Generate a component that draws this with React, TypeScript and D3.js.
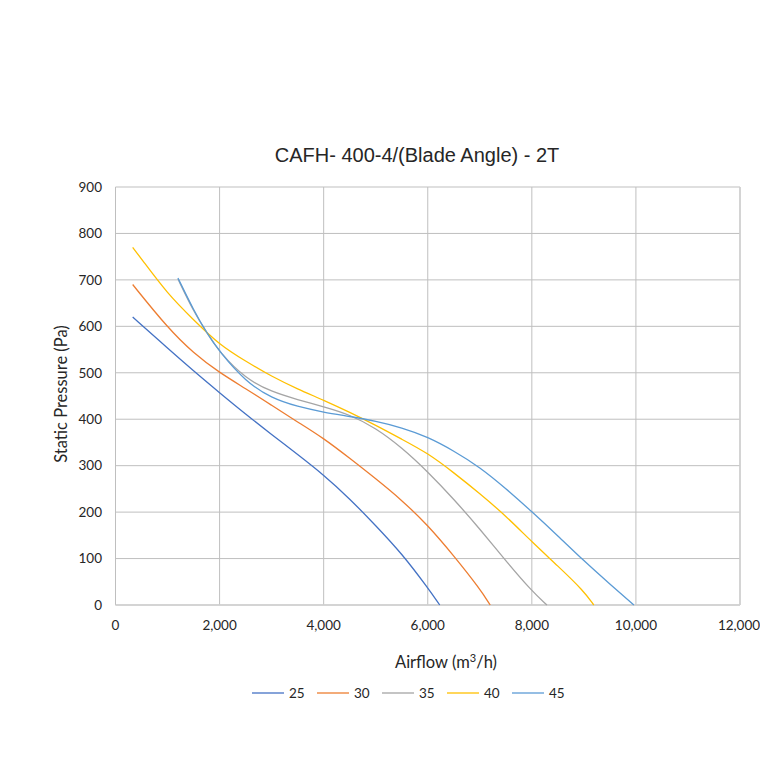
import React from "react"
import * as d3 from "d3"

// airflow (m3/h) / static pressure (Pa)
const flow25 = [330, 1000, 1500, 2000, 2500, 3000, 3500, 4000, 4500, 5000, 5500, 6000, 6230]
const pres25 = [620, 553, 504, 457, 411, 367, 324, 280, 229, 171, 111, 37, 0]

const flow30 = [330, 1000, 1500, 2000, 2500, 3000, 3500, 4000, 4500, 5000, 5500, 6000, 6500, 7000, 7200]
const pres30 = [690, 597, 542, 500, 466, 430, 394, 359, 316, 272, 226, 172, 106, 35, 0]

const flow35 = [1200, 1500, 1750, 2000, 2500, 3000, 3500, 4000, 4500, 5000, 5500, 6000, 6500, 7000, 7500, 8000, 8290]
const pres35 = [702, 632, 587, 544, 487, 459, 442, 427, 410, 381, 339, 287, 228, 164, 95, 30, 0]

const flow40 = [330, 500, 1000, 1500, 2000, 2500, 3000, 3500, 4000, 4500, 5000, 5500, 6000, 6500, 7000, 7500, 8000, 8500, 9000, 9190]
const pres40 = [770, 745, 670, 614, 560, 525, 492, 465, 441, 415, 387, 357, 327, 285, 240, 192, 136, 84, 30, 0]

const flow45 = [1200, 1500, 1750, 2000, 2500, 3000, 3500, 4000, 4500, 5000, 5500, 6000, 6500, 7000, 7500, 8000, 8500, 9000, 9500, 9960]
const pres45 = [704, 635, 586, 545, 481, 445, 427, 415, 406, 396, 382, 362, 332, 297, 251, 201, 149, 95, 45, 0]

const seriesNames = ["25", "30", "35", "40", "45"]
const seriesColors = ["#4472C4", "#ED7D31", "#A5A5A5", "#FFC000", "#5B9BD5"]
const seriesFlows = [flow25, flow30, flow35, flow40, flow45]
const seriesPres = [pres25, pres30, pres35, pres40, pres45]

const xTicks = [0, 2000, 4000, 6000, 8000, 10000, 12000]
const yTicks = [0, 100, 200, 300, 400, 500, 600, 700, 800, 900]

const title = "CAFH- 400-4/(Blade Angle) - 2T"

const W = 760
const H = 760
const plot = { left: 115.5, right: 740, top: 187, bottom: 605 }

const tickFont = "Lato, 'Open Sans', sans-serif"

const App: React.FC = () => {
  const x = d3.scaleLinear().domain([0, 12000]).range([plot.left, plot.right])
  const y = d3.scaleLinear().domain([0, 900]).range([plot.bottom, plot.top])

  // smoothed line, like the spreadsheet's "smoothed" series
  const line = d3.line<[number, number]>()
    .x(d => x(d[0]))
    .y(d => y(d[1]))
    .curve(d3.curveBasis)

  const fmt = d3.format(",")

  const legendX0 = 252
  const legendStep = 65

  return (
    <svg width={W} height={H} style={{ position: "absolute", left: 0, top: 0, background: "#fff" }}>
      <rect x={0} y={0} width={W} height={H} fill="#fff" />

      {/* title */}
      <text x={417} y={162} textAnchor="middle" fontFamily="'Liberation Sans', Arial, sans-serif" fontSize={20} fill="#262626">
        {title}
      </text>

      {/* grid */}
      <g className="grid">
        {yTicks.map(t => (
          <line key={"gy" + t} x1={plot.left} x2={plot.right} y1={y(t)} y2={y(t)} stroke="#bfbfbf" strokeWidth={1} />
        ))}
        {xTicks.map(t => (
          <line key={"gx" + t} x1={x(t)} x2={x(t)} y1={plot.top} y2={plot.bottom} stroke="#bfbfbf" strokeWidth={1} />
        ))}
        <line x1={plot.left} x2={plot.right} y1={plot.bottom} y2={plot.bottom} stroke="#d0d0d0" strokeWidth={1.5} />
        <line x1={plot.right} x2={plot.right} y1={plot.top} y2={plot.bottom} stroke="#d0d0d0" strokeWidth={1.5} />
      </g>

      {/* tick labels */}
      <g fontFamily={tickFont} fontSize={13.5} fill="#262626">
        {yTicks.map(t => (
          <text key={"ly" + t} x={102} y={y(t)} dy="0.35em" textAnchor="end">{t}</text>
        ))}
        {xTicks.map(t => (
          <text key={"lx" + t} x={Math.min(x(t), 739)} y={630} textAnchor="middle">{fmt(t)}</text>
        ))}
      </g>

      {/* axis titles */}
      <text transform={`translate(67, ${394}) rotate(-90)`} textAnchor="middle" fontFamily={tickFont} fontSize={16.5} fill="#262626">
        Static Pressure (Pa)
      </text>
      <text x={446} y={668} textAnchor="middle" fontFamily={tickFont} fontSize={16.5} fill="#262626">
        Airflow (m<tspan dy={-6} fontSize={11}>3</tspan><tspan dy={6}>/h)</tspan>
      </text>

      {/* curves */}
      <g fill="none" strokeWidth={1.3}>
        {seriesNames.map((name, i) => {
          const pts = seriesFlows[i].map((f, j) => [f, seriesPres[i][j]] as [number, number])
          return <path key={"s" + name} d={line(pts) || ""} stroke={seriesColors[i]} />
        })}
      </g>

      {/* legend */}
      <g fontFamily={tickFont} fontSize={13.5} fill="#262626">
        {seriesNames.map((name, i) => {
          const lx = legendX0 + i * legendStep
          return (
            <g key={"lg" + name}>
              <line x1={lx} x2={lx + 32} y1={693} y2={693} stroke={seriesColors[i]} strokeWidth={1.3} />
              <text x={lx + 37} y={693} dy="0.35em">{name}</text>
            </g>
          )
        })}
      </g>
    </svg>
  )
}

export default App
